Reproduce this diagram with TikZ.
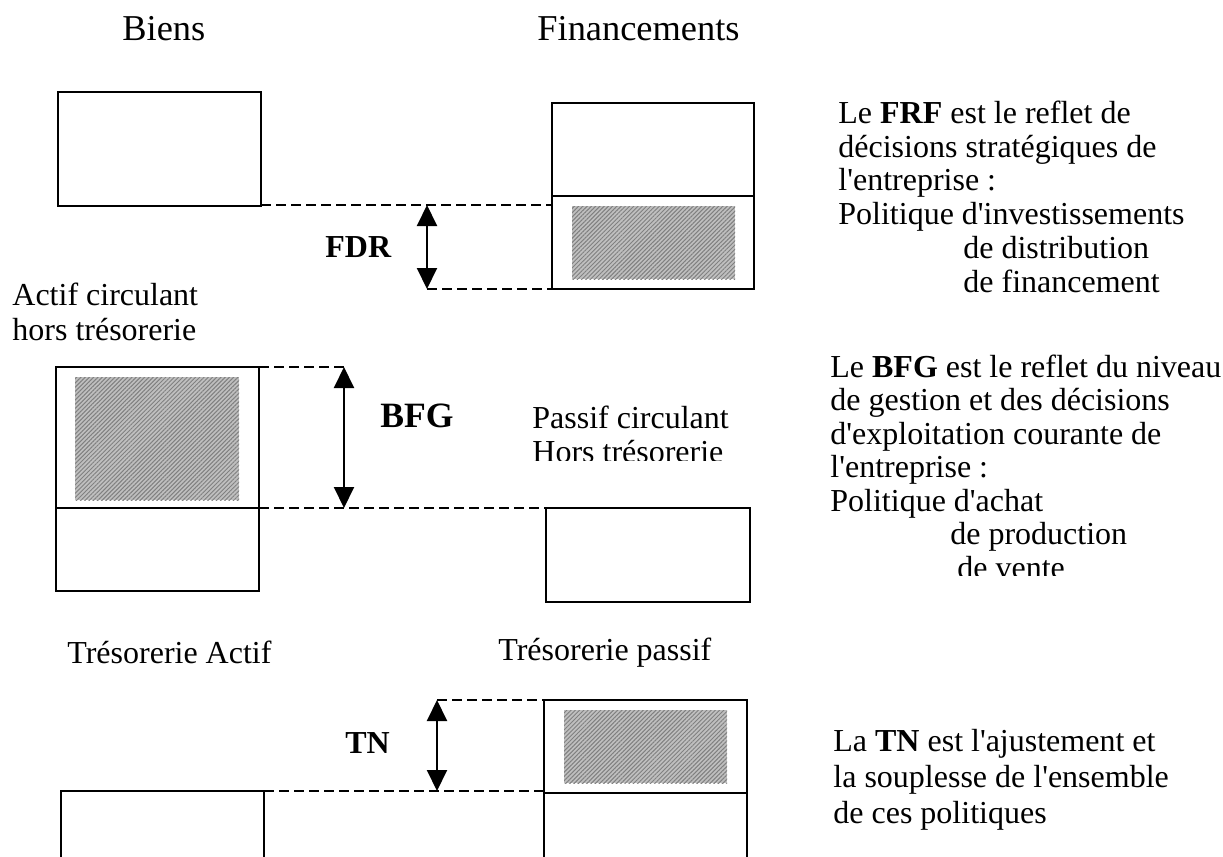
\documentclass[tikz,border=0pt]{standalone}
\usepackage{fontspec}
\newfontfamily\lib{Liberation Serif}
\usetikzlibrary{arrows.meta}
\usetikzlibrary{patterns.meta}

\begin{document}
\begin{tikzpicture}[x=0.5pt,y=-0.5pt,
    bloc/.style={line width=1.1pt},
    hachure/.style={preaction={fill=black!25},pattern={Lines[angle=45,distance=1.5pt,line width=0.5pt]},pattern color=black!50},
    tiret/.style={line width=0.9pt,dash pattern=on 5pt off 2.5pt},
    cote/.style={<->,>={Triangle[length=10.5pt,width=10pt]},line width=1pt},
    txt/.style={font=\lib\fontsize{16}{16.8}\selectfont,align=left,inner sep=0pt,anchor=base west},
    titre/.style={font=\lib\fontsize{18.2}{20}\selectfont,inner sep=0pt,anchor=base west}]
  \useasboundingbox (0,0) rectangle (1223,857);
  \clip (0,0) rectangle (1223,857);

  % titres
  \node[titre] (biens) at (122,40) {Biens};
  \node[titre] (fin) at (537,40) {Financements};

  % FDR
  \draw[bloc] (58,92) rectangle (261,206);
  \draw[bloc] (552,103) rectangle (754,289);
  \draw[bloc] (552,196) -- (754,196);
  \path[hachure] (572,206) rectangle (735,279);
  \coordinate (a1) at (261,205);
  \coordinate (f1) at (552,205);
  \coordinate (fdrh) at (427,205);
  \coordinate (fdrb) at (427,289);
  \coordinate (f1b) at (552,289);
  \draw[tiret] (a1) -- (f1);
  \draw[tiret] (fdrb) -- (f1b);
  \draw[cote] (fdrh) -- (fdrb);
  \node[txt] (fdr) at (325,257) {\textbf{FDR}};

  % BFG
  \node[txt,font=\lib\fontsize{16}{17.5}\selectfont] (acirc) at (12,340)
    {Actif circulant\\hors trésorerie};
  \draw[bloc] (56,367) rectangle (259,591);
  \draw[bloc] (56,508) -- (259,508);
  \path[hachure] (75,377) rectangle (239,500);
  \draw[bloc] (546,508) rectangle (750,602);
  \coordinate (a2h) at (259,367);
  \coordinate (a2b) at (259,508);
  \coordinate (bfgh) at (344,367);
  \coordinate (bfgb) at (344,508);
  \coordinate (f2) at (546,508);
  \draw[tiret] (a2h) -- (bfgh);
  \draw[tiret] (a2b) -- (f2);
  \draw[cote] (bfgh) -- (bfgb);
  \node[txt,font=\lib\fontsize{17.8}{20}\selectfont] (bfg) at (380,427) {\textbf{BFG}};
  \begin{scope}
    \clip (520,380) rectangle (780,460);
    \node[txt,font=\lib\fontsize{16}{17}\selectfont] (pcirc) at (532,462)
      {Passif circulant\\Hors trésorerie};
  \end{scope}

  % TN
  \node[txt] (tact) at (67,663) {Trésorerie Actif};
  \node[txt] (tpas) at (498,660) {Trésorerie passif};
  \draw[bloc] (61,870) -- (61,791) -- (264,791) -- (264,870);
  \draw[bloc] (544,870) -- (544,700) -- (747,700) -- (747,870);
  \draw[bloc] (544,793) -- (747,793);
  \path[hachure] (564,710) rectangle (727,783);
  \coordinate (a3) at (264,791);
  \coordinate (f3h) at (544,700);
  \coordinate (f3b) at (544,791);
  \coordinate (tnh) at (437,700);
  \coordinate (tnb) at (437,791);
  \draw[tiret] (tnh) -- (f3h);
  \draw[tiret] (a3) -- (f3b);
  \draw[cote] (tnh) -- (tnb);
  \node[txt] (tn) at (345,753) {\textbf{TN}};

  % commentaires
  \node[txt,font=\lib\fontsize{16}{16.85}\selectfont] (frf) at (838,292)
    {Le \textbf{FRF} est le reflet de\\
     décisions stratégiques de\\
     l'entreprise :\\
     Politique d'investissements\\
     \hspace*{62.5pt}de distribution\\
     \hspace*{62.5pt}de financement};
  \begin{scope}
    \clip (800,340) rectangle (1223,575);
    \node[txt,font=\lib\fontsize{16}{16.75}\selectfont] (gest) at (830,578)
      {Le \textbf{BFG} est le reflet du niveau\\
       de gestion et des décisions\\
       d'exploitation courante de\\
       l'entreprise :\\
       Politique d'achat\\
       \hspace*{60pt}de production\\
       \hspace*{63.5pt}de vente};
  \end{scope}
  \node[txt,font=\lib\fontsize{16}{18}\selectfont] (ajust) at (833,823)
    {La \textbf{TN} est l'ajustement et\\
     la souplesse de l'ensemble\\
     de ces politiques};
\end{tikzpicture}
\end{document}
